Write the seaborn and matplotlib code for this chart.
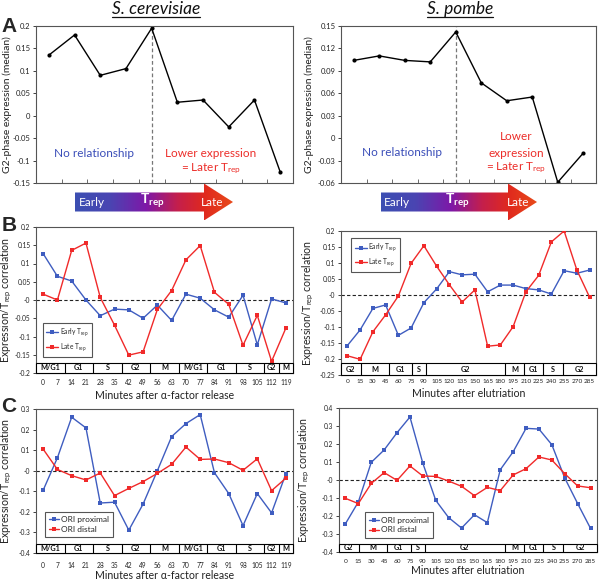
import numpy as np
import pandas as pd
import matplotlib
matplotlib.use("Agg")
import matplotlib.pyplot as plt
import seaborn as sns
from matplotlib.patches import Polygon, Rectangle
from matplotlib.colors import LinearSegmentedColormap
from matplotlib.lines import Line2D

sns.set_theme(style="white")
plt.rcParams["font.family"] = ["Lato", "DejaVu Sans"]
plt.rcParams["mathtext.fontset"] = "custom"
plt.rcParams["mathtext.rm"] = "Lato"
plt.rcParams["mathtext.it"] = "Lato:italic"
plt.rcParams["mathtext.bf"] = "Lato:bold"
plt.rcParams["axes.unicode_minus"] = False

# ---------------- data ----------------
a_bins = [1, 2, 3, 4, 5, 6, 7, 8, 9, 10]
a_cerevisiae = [0.135, 0.180, 0.090, 0.105, 0.195, 0.030, 0.035, -0.025, 0.035, -0.125]
a_pombe = [0.104, 0.110, 0.104, 0.102, 0.142, 0.074, 0.050, 0.055, -0.059, -0.020]

sc_minutes = [0, 7, 14, 21, 28, 35, 42, 49, 56, 63, 70, 77, 84, 91, 98, 105, 112, 119]
sp_minutes = [0, 15, 30, 45, 60, 75, 90, 105, 120, 135, 150, 165, 180, 195, 210, 225,
              240, 255, 270, 285]

b_sc_early = [0.127, 0.065, 0.052, 0.000, -0.043, -0.025, -0.027, -0.050, -0.014, -0.056,
              0.016, 0.005, -0.027, -0.047, 0.013, -0.123, 0.003, -0.008]
b_sc_late = [0.016, 0.000, 0.136, 0.156, 0.007, -0.069, -0.151, -0.142, -0.026, 0.026,
             0.110, 0.149, 0.021, -0.012, -0.124, -0.042, -0.168, -0.077]
b_sp_early = [-0.158, -0.109, -0.042, -0.031, -0.126, -0.103, -0.024, 0.019, 0.073, 0.063,
              0.065, 0.010, 0.031, 0.031, 0.020, 0.016, 0.003, 0.076, 0.068, 0.078]
b_sp_late = [-0.190, -0.201, -0.115, -0.062, -0.003, 0.099, 0.154, 0.090, 0.032, -0.022,
             0.016, -0.160, -0.156, -0.099, 0.010, 0.061, 0.166, 0.200, 0.078, -0.007]

c_sc_proximal = [-0.095, 0.063, 0.260, 0.208, -0.157, -0.153, -0.289, -0.162, 0.000, 0.166,
                 0.229, 0.273, -0.010, -0.111, -0.267, -0.111, -0.205, -0.015]
c_sc_distal = [0.105, 0.006, -0.024, -0.045, -0.011, -0.121, -0.086, -0.053, -0.013, 0.031,
               0.115, 0.055, 0.057, 0.039, 0.002, 0.058, -0.097, -0.036]
c_sp_proximal = [-0.243, -0.122, 0.098, 0.167, 0.263, 0.350, 0.093, -0.113, -0.209, -0.267,
                 -0.193, -0.237, 0.057, 0.157, 0.287, 0.283, 0.196, 0.011, -0.131, -0.269]
c_sp_distal = [-0.102, -0.131, -0.019, 0.041, -0.002, 0.078, 0.022, 0.020, -0.006, -0.035,
               -0.087, -0.041, -0.059, 0.028, 0.063, 0.128, 0.111, 0.035, -0.033, -0.043]

sc_phases = ["M/G1", "G1", "S", "G2", "M", "M/G1", "G1", "S", "G2", "M"]
sc_phase_edges = [0, 2, 4, 6, 8, 10, 12, 14, 16, 17, 18]
sp_phases = ["G2", "M", "G1", "S", "G2", "M", "G1", "S", "G2"]
sp_phase_edges = [0, 1.55, 3.75, 5.55, 6.65, 12.85, 14.35, 15.85, 17.4, 20]

BLUE = "#3F5DC0"
RED = "#F02A2A"
TXT_BLUE = "#3A4DB8"
TXT_RED = "#EC2E2A"
SPINE = "#555555"

W, H = 600, 580
fig = plt.figure(figsize=(6, 5.8), dpi=100)


def rect(x0, x1, y0, y1):
    return [x0 / W, 1 - y1 / H, (x1 - x0) / W, (y1 - y0) / H]


axA1 = fig.add_axes(rect(36, 293, 26, 183))
axA2 = fig.add_axes(rect(341, 596, 26, 183))
axB1 = fig.add_axes(rect(36, 293, 227, 373))
axB2 = fig.add_axes(rect(341, 596, 231, 375))
axC1 = fig.add_axes(rect(36, 293, 409, 553))
axC2 = fig.add_axes(rect(339, 597, 408, 552))


def fmt(v):
    return f"{round(v, 3):g}"


def style_axes(ax, yticks, ysize):
    ax.set_ylim(yticks[0], yticks[-1])
    ax.set_yticks(yticks)
    ax.set_yticklabels([fmt(t) for t in yticks], fontsize=ysize, color="#222222")
    ax.tick_params(axis="y", direction="out", length=2.5, width=0.6, pad=1.5,
                   colors="#222222", left=True)
    for s in ax.spines.values():
        s.set_color(SPINE)
        s.set_linewidth(0.8)


# ---------------- panel A ----------------
def panel_a(ax, vals, yticks, ylab_x):
    df = pd.DataFrame({"pos": np.arange(len(vals)), "val": vals})
    sns.lineplot(data=df, x="pos", y="val", color="black", lw=1.0, marker="o",
                 markersize=3, markeredgewidth=0, ax=ax)
    n = len(vals)
    ax.set_xlim(-0.5, n - 0.5)
    ax.set_xticks(np.arange(n - 1) + 0.5)
    ax.set_xticklabels([])
    ax.tick_params(axis="x", direction="in", length=3, width=0.6, colors=SPINE, bottom=True)
    style_axes(ax, yticks, 5.5)
    peak = int(np.argmax(vals))
    ax.axvline(peak, color="#777777", ls=(0, (3, 2)), lw=0.9, zorder=0)
    ax.set_xlabel("")
    ax.set_ylabel("G2-phase expression (median)", fontsize=7.5, color="#222222")
    ax.yaxis.set_label_coords(ylab_x, 0.5)


panel_a(axA1, a_cerevisiae, np.round(np.arange(-0.15, 0.2001, 0.05), 3), -0.092)
panel_a(axA2, a_pombe, np.round(np.arange(-0.06, 0.1501, 0.03), 3), -0.105)

axA1.text(0.226, 0.185, "No relationship", color=TXT_BLUE, fontsize=8.5,
          ha="center", va="center", transform=axA1.transAxes)
axA1.text(0.68, 0.185, "Lower expression", color=TXT_RED, fontsize=8.5,
          ha="center", va="center", transform=axA1.transAxes)
axA1.text(0.68, 0.09, "= Later T$_{\\rm rep}$", color=TXT_RED, fontsize=8.5,
          ha="center", va="center", transform=axA1.transAxes)
axA2.text(0.239, 0.197, "No relationship", color=TXT_BLUE, fontsize=8.5,
          ha="center", va="center", transform=axA2.transAxes)
axA2.text(0.686, 0.293, "Lower", color=TXT_RED, fontsize=8.5,
          ha="center", va="center", transform=axA2.transAxes)
axA2.text(0.686, 0.19, "expression", color=TXT_RED, fontsize=8.5,
          ha="center", va="center", transform=axA2.transAxes)
axA2.text(0.686, 0.095, "= Later T$_{\\rm rep}$", color=TXT_RED, fontsize=8.5,
          ha="center", va="center", transform=axA2.transAxes)


# ---------------- gradient arrows ----------------
cmap = LinearSegmentedColormap.from_list(
    "trep", [(0.0, "#3C4FB2"), (0.22, "#4A45B2"), (0.45, "#7E18A8"),
             (0.65, "#C41F4C"), (0.82, "#E0291E"), (1.0, "#E84A1A")])


def grad_arrow(x0, xh, x1, ym, hb, hh, tx):
    ax = fig.add_axes(rect(x0, x1, ym - hh, ym + hh))
    ax.set_xlim(x0, x1)
    ax.set_ylim(ym + hh, ym - hh)
    ax.axis("off")
    im = ax.imshow(np.linspace(0, 1, 256)[None, :], extent=[x0, x1, ym + hh, ym - hh],
                   cmap=cmap, aspect="auto", interpolation="bilinear")
    poly = Polygon([(x0, ym - hb), (xh, ym - hb), (xh, ym - hh), (x1, ym),
                    (xh, ym + hh), (xh, ym + hb), (x0, ym + hb)], closed=True,
                   fc="none", ec="none", transform=ax.transData)
    ax.add_patch(poly)
    im.set_clip_path(poly)
    ax.text(tx[0], ym, "Early", color="white", fontsize=8.5, ha="center", va="center")
    ax.text(tx[1], ym - 1, "$\\mathbf{T}_{\\mathbf{rep}}$", color="white", fontsize=10,
            ha="center", va="center")
    ax.text(tx[2], ym, "Late", color="white", fontsize=8.5, ha="center", va="center")


grad_arrow(75, 204, 233, 202, 9.5, 18.5, (92, 152, 212))
grad_arrow(381, 508, 537, 202, 9.5, 18.5, (397, 457, 518))


# ---------------- panels B and C ----------------
def phase_band(ax, edges, labels, ybot, ytop, size):
    ax.add_patch(Rectangle((edges[0] - 0.5, ybot), edges[-1] - edges[0], ytop - ybot,
                           fc="white", ec="black", lw=0.8, zorder=5, clip_on=False))
    for e in edges[1:-1]:
        ax.plot([e - 0.5, e - 0.5], [ybot, ytop], color="black", lw=0.8, zorder=6)
    for lab, a, b in zip(labels, edges[:-1], edges[1:]):
        ax.text((a + b) / 2 - 0.5, (ybot + ytop) / 2, lab, ha="center", va="center",
                fontsize=size, fontweight="bold", zorder=7, color="#111111")


def panel_corr(ax, minutes, s1, s2, names, yticks, band, phases, edges, xlabel,
               ylab_x, leg_loc, leg_anchor, leg_size, tick_size, tick_pad, lab_pad,
               handle_len):
    n = len(minutes)
    df = pd.DataFrame({
        "pos": np.concatenate([np.arange(n), np.arange(n)]),
        "val": list(s1) + list(s2),
        "series": [names[0]] * n + [names[1]] * n,
    })
    sns.lineplot(data=df, x="pos", y="val", hue="series", style="series",
                 palette=[BLUE, RED], markers=["s", "s"], dashes=False, lw=1.0,
                 markersize=2.6, markeredgewidth=0, ax=ax, zorder=3)
    ax.set_xlim(-0.5, n - 0.5)
    style_axes(ax, yticks, 4.8)
    ax.axhline(0, color="#222222", ls=(0, (3, 2)), lw=0.8, zorder=2)
    ax.set_xticks(np.arange(n))
    ax.set_xticklabels([str(m) for m in minutes], fontsize=tick_size, color="#222222")
    ax.tick_params(axis="x", length=0, pad=tick_pad)
    ax.set_xlabel(xlabel, fontsize=7.6, color="#222222", labelpad=lab_pad)
    ax.set_ylabel("Expression/T$_{\\rm rep}$ correlation", fontsize=7.6, color="#222222")
    ax.yaxis.set_label_coords(ylab_x, 0.5)
    phase_band(ax, edges, phases, yticks[0], band, 5.2)
    sns.move_legend(ax, leg_loc, bbox_to_anchor=leg_anchor, title=None, fontsize=leg_size,
                    frameon=True, fancybox=False, edgecolor="#555555", framealpha=1,
                    handlelength=handle_len, handletextpad=0.2, borderpad=0.5,
                    labelspacing=0.35, borderaxespad=0)
    ax.get_legend().get_frame().set_linewidth(0.8)


early_late = ["Early T$_{\\rm rep}$", "Late T$_{\\rm rep}$"]
ori = ["ORI proximal", "ORI distal"]

panel_corr(axB1, sc_minutes, b_sc_early, b_sc_late, early_late,
           np.round(np.arange(-0.2, 0.2001, 0.05), 3), -0.172, sc_phases, sc_phase_edges,
           "Minutes after α-factor release", -0.086, "lower left", (0.027, 0.11), 4.8,
           4.8, 4.5, 3, 1.8)
panel_corr(axB2, sp_minutes, b_sp_early, b_sp_late, early_late,
           np.round(np.arange(-0.25, 0.2001, 0.05), 3), -0.214, sp_phases, sp_phase_edges,
           "Minutes after elutriation", -0.1, "upper left", (0.04, 0.95), 4.8,
           4.6, 2.8, 3, 1.8)
panel_corr(axC1, sc_minutes, c_sc_proximal, c_sc_distal, ori,
           np.round(np.arange(-0.4, 0.3001, 0.1), 3), -0.355, sc_phases, sc_phase_edges,
           "Minutes after α-factor release", -0.086, "lower left", (0.035, 0.11), 6.0,
           4.8, 6.5, 0.5, 1.2)
panel_corr(axC2, sp_minutes, c_sp_proximal, c_sp_distal, ori,
           np.round(np.arange(-0.4, 0.4001, 0.1), 3), -0.355, sp_phases, sp_phase_edges,
           "Minutes after elutriation", -0.103, "lower left", (0.1, 0.1), 6.0,
           4.6, 5.0, 0.5, 1.2)

# ---------------- titles and panel letters ----------------
for xc, name in [(156, "S. cerevisiae"), (460, "S. pombe")]:
    t = fig.text(xc / W, 1 - 9 / H, name, fontsize=12.5, style="italic",
                 ha="center", va="center", color="#111111")
    fig.canvas.draw()
    bb = t.get_window_extent().transformed(fig.transFigure.inverted())
    fig.add_artist(Line2D([bb.x0, bb.x1], [1 - 17 / H, 1 - 17 / H], color="#111111",
                          lw=0.9, transform=fig.transFigure))

for (x, y), letter in [((9, 26), "A"), ((9, 225), "B"), ((9, 406), "C")]:
    fig.text(x / W, 1 - y / H, letter, fontsize=15, fontweight="bold",
             family=["Liberation Sans", "DejaVu Sans"], ha="center", va="center")

fig.savefig("out.png", dpi=100)
